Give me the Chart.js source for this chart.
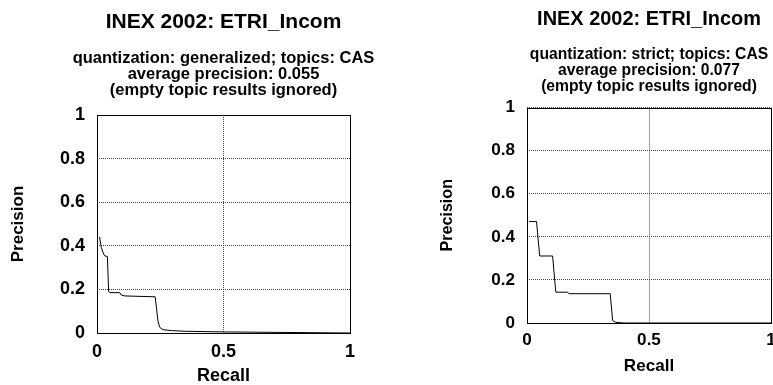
<!DOCTYPE html>
<html><head><meta charset="utf-8">
<script src="https://cdn.jsdelivr.net/npm/chart.js@4.4.1/dist/chart.umd.min.js"></script>
<style>
html,body{margin:0;padding:0;background:#fff;overflow:hidden;width:773px;height:385px;position:relative;}
#wrapL{position:absolute;left:0;top:0;width:447px;height:385px;}
#wrapR{position:absolute;left:390px;top:0;width:518px;height:385px;}
canvas{display:block;}
</style></head><body>
<div id="wrapL"><canvas id="cL" width="447" height="385"></canvas></div>
<div id="wrapR"><canvas id="cR" width="518" height="385"></canvas></div>
<script>
// ---- data ----
const chartTitle = "INEX 2002: ETRI_Incom";
const subtitleGeneralized = ["quantization: generalized; topics: CAS", "average precision: 0.055", "(empty topic results ignored)"];
const subtitleStrict = ["quantization: strict; topics: CAS", "average precision: 0.077", "(empty topic results ignored)"];
const xAxisLabel = "Recall";
const yAxisLabel = "Precision";
const xTicks = [0, 0.5, 1];
const yTicks = [0, 0.2, 0.4, 0.6, 0.8, 1];

const genRecall    = [0.010, 0.017, 0.024, 0.030, 0.041, 0.046, 0.050, 0.090, 0.096, 0.110, 0.230, 0.235, 0.241, 0.248, 0.261, 0.294, 0.347, 0.498, 1.000];
const genPrecision = [0.441, 0.392, 0.369, 0.354, 0.351, 0.192, 0.185, 0.185, 0.174, 0.170, 0.166, 0.115, 0.054, 0.026, 0.015, 0.011, 0.008, 0.005, 0.000];

const strictRecall    = [0.009, 0.039, 0.052, 0.105, 0.118, 0.165, 0.173, 0.341, 0.351, 0.364, 0.398, 1.000];
const strictPrecision = [0.471, 0.471, 0.311, 0.311, 0.143, 0.143, 0.136, 0.136, 0.011, 0.003, 0.000, 0.000];

// ---- rendering ----
const FONT = "'Liberation Sans', Arial, Helvetica, sans-serif";

const framePlugin = {
  id: 'frame',
  beforeDatasetsDraw(chart) {
    const {ctx, chartArea: a} = chart;
    ctx.save();
    ctx.strokeStyle = '#000';
    ctx.lineWidth = 1;
    ctx.strokeRect(Math.round(a.left) + 0.5, Math.round(a.top) + 0.5,
                   Math.round(a.right) - Math.round(a.left), Math.round(a.bottom) - Math.round(a.top));
    ctx.restore();
  }
};

function build(id, recall, precision, subLines, g) {
  const k = g.fontScale;
  const pts = recall.map((r, i) => ({x: r, y: precision[i]}));
  const tickFont = {family: FONT, size: 18 * k, weight: 'bold', lineHeight: 1.2};
  return new Chart(document.getElementById(id), {
    type: 'line',
    data: {datasets: [{data: pts, borderColor: '#000', borderWidth: 1, pointRadius: 0, tension: 0, fill: false}]},
    options: {
      responsive: false, animation: false, events: [],
      layout: {padding: 0},
      plugins: {
        legend: {display: false},
        tooltip: {enabled: false},
        title: {display: true, text: chartTitle, color: '#000',
                font: {family: FONT, size: 21 * k, weight: 'bold', lineHeight: 1.2},
                padding: {top: g.titleTop, bottom: g.titleBottom}},
        subtitle: {display: true, text: subLines, color: '#000',
                   font: {family: FONT, size: 16.5 * k, weight: 'bold', lineHeight: '16px'},
                   padding: {top: 0, bottom: g.subBottom}}
      },
      scales: {
        x: {
          type: 'linear', position: 'bottom', min: 0, max: 1,
          afterBuildTicks: s => { s.ticks = xTicks.map(v => ({value: v})); },
          afterFit: s => { s.height = g.xHeight; },
          ticks: {color: '#000', font: tickFont, padding: g.xTickPad, maxRotation: 0, autoSkip: false,
                  callback: v => String(v)},
          grid: {color: '#444', lineWidth: 1, drawTicks: false},
          border: {display: false, dash: [1, 1]},
          title: {display: true, text: xAxisLabel, color: '#000',
                  font: {family: FONT, size: 18 * k, weight: 'bold', lineHeight: 1.0},
                  padding: {top: 0, bottom: g.xTitleBottom}}
        },
        y: {
          type: 'linear', position: 'left', min: 0, max: 1,
          afterBuildTicks: s => { s.ticks = yTicks.map(v => ({value: v})); },
          afterFit: s => { s.width = g.yWidth; },
          ticks: {color: '#000', font: tickFont, padding: 12, autoSkip: false,
                  callback: v => String(v)},
          grid: {color: '#444', lineWidth: 1, drawTicks: false},
          border: {display: false, dash: [1, 1]},
          title: {display: true, text: yAxisLabel, color: '#000',
                  font: {family: FONT, size: 17 * k, weight: 'bold', lineHeight: 1.0},
                  padding: {top: g.yTitlePad, bottom: 0}}
        },
        y2: {
          type: 'linear', position: 'right', min: 0, max: 1, display: true,
          afterFit: s => { s.width = g.yWidth; },
          ticks: {display: false},
          grid: {display: false},
          border: {display: false}
        }
      }
    },
    plugins: [framePlugin]
  });
}

build('cL', genRecall, genPrecision, subtitleGeneralized,
      {fontScale: 1, titleTop: 9.4, titleBottom: 15.4, subBottom: 17, xHeight: 52, xTickPad: 8, xTitleBottom: 0, yWidth: 97, yTitlePad: 10});
build('cR', strictRecall, strictPrecision, subtitleStrict,
      {fontScale: 0.95, titleTop: 7.9, titleBottom: 14.7, subBottom: 13, xHeight: 62, xTickPad: 7, xTitleBottom: 10.5, yWidth: 137, yTitlePad: 49});
</script>
</body></html>
